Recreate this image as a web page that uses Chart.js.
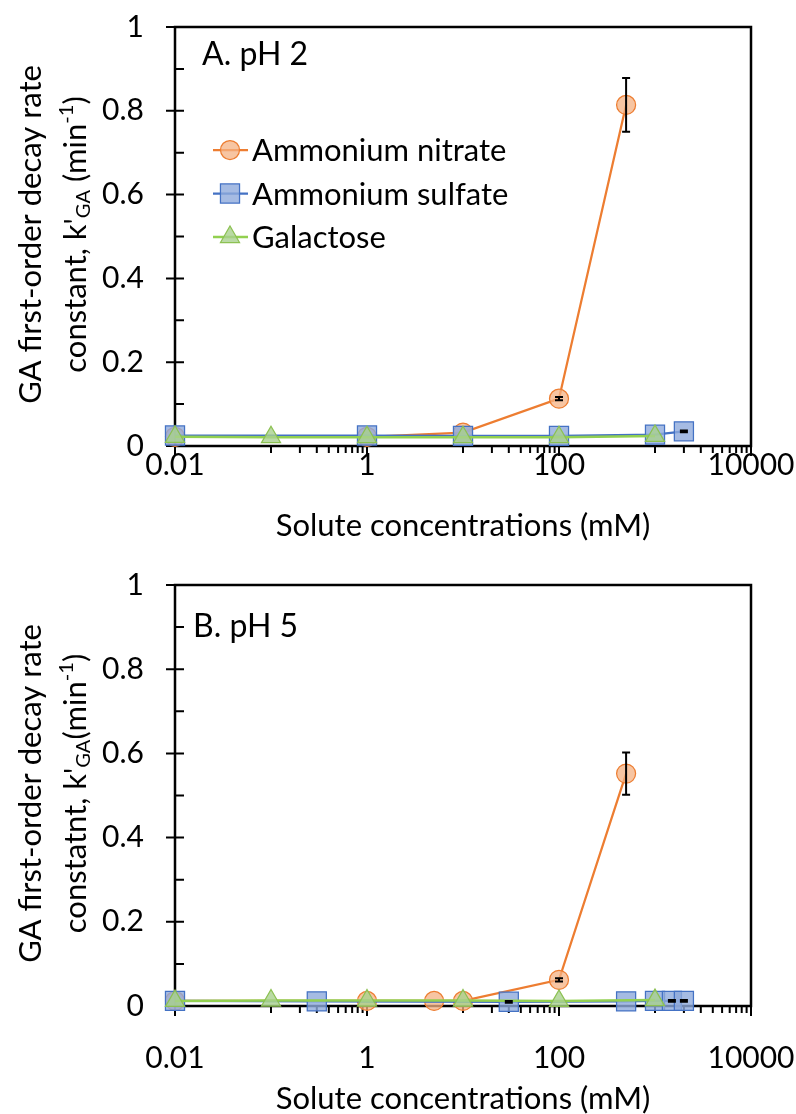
<!DOCTYPE html>
<html>
<head>
<meta charset="utf-8">
<title>GA decay rate vs solute concentration</title>
<script src="https://cdn.jsdelivr.net/npm/chart.js@4.4.1/dist/chart.umd.min.js"></script>
<style>
  html, body { margin: 0; padding: 0; background: #fff; }
  #wrap { position: relative; width: 796px; height: 1114px; overflow: hidden; }
  canvas { position: absolute; left: 0; }
</style>
</head>
<body>
<div id="wrap">
  <canvas id="chartA" width="796" height="557" style="top:0"></canvas>
  <canvas id="chartB" width="796" height="557" style="top:557px"></canvas>
</div>
<script>
// Concentrations in mM, k'GA in 1/min
var xLabelTicks = [0.01, 1, 100, 10000];
var xMinorDecades = [0.1, 10, 1000];
var xMinorSteps = [1, 2, 3, 4, 5, 6, 7, 8, 9];
var yTicks = [0, 0.2, 0.4, 0.6, 0.8, 1];
var yMinorTicks = [0.1, 0.3, 0.5, 0.7, 0.9];

// A. pH 2
var nitrateA_x = [0.01, 1, 10, 100, 500];
var nitrateA_y = [0.022, 0.022, 0.032, 0.113, 0.814];
var nitrateA_err = [0, 0, 0, 0.004, 0.064];
var sulfateA_x = [0.01, 1, 10, 100, 1000, 2000];
var sulfateA_y = [0.025, 0.025, 0.024, 0.024, 0.027, 0.035];
var sulfateA_err = [0, 0, 0, 0, 0, 0.002];
var galactoseA_x = [0.01, 0.1, 1, 10, 100, 1000];
var galactoseA_y = [0.022, 0.021, 0.021, 0.021, 0.021, 0.024];

// B. pH 5
var nitrateB_x = [0.01, 1, 5, 10, 100, 500];
var nitrateB_y = [0.012, 0.012, 0.012, 0.012, 0.062, 0.552];
var nitrateB_err = [0, 0, 0, 0, 0.004, 0.05];
var sulfateB_x = [0.01, 0.3, 30, 500, 1000, 1500, 2000];
var sulfateB_y = [0.012, 0.011, 0.01, 0.011, 0.012, 0.012, 0.012];
var sulfateB_err = [0, 0, 0.002, 0, 0, 0.002, 0.002];
var galactoseB_x = [0.01, 0.1, 1, 10, 100, 1000];
var galactoseB_y = [0.012, 0.013, 0.013, 0.013, 0.012, 0.014];

var ORANGE = '#ED7D31', ORANGE_FILL = 'rgba(244,177,131,0.75)';
var BLUE = '#4472C4', BLUE_FILL = 'rgba(143,170,220,0.8)';
var GREEN = '#92D050', GREEN_FILL = 'rgba(169,209,142,0.8)', GREEN_EDGE = '#8CC152';
var FONT = 'Lato, "Open Sans", sans-serif';

Chart.defaults.font.family = FONT;
Chart.defaults.color = '#000';

function pts(xs, ys) {
  return xs.map(function (x, i) { return { x: x, y: ys[i] }; });
}

// axis frame plus Excel-style tick marks
var framePlugin = {
  id: 'frame',
  beforeDatasetsDraw: function (chart) {
    var ctx = chart.ctx, a = chart.chartArea;
    var xs = chart.scales.x, ys = chart.scales.y;
    ctx.save();
    ctx.strokeStyle = '#000';
    ctx.lineWidth = 2.5;
    ctx.strokeRect(a.left, a.top, a.right - a.left, a.bottom - a.top);
    ctx.lineWidth = 2;
    ctx.beginPath();
    xLabelTicks.forEach(function (v) {
      var px = xs.getPixelForValue(v);
      ctx.moveTo(px, a.bottom);
      ctx.lineTo(px, a.bottom + 10);
    });
    xMinorDecades.forEach(function (d) {
      xMinorSteps.forEach(function (k) {
        var px = xs.getPixelForValue(d * k);
        ctx.moveTo(px, a.bottom);
        ctx.lineTo(px, a.bottom + 7);
      });
    });
    yTicks.forEach(function (v) {
      var py = ys.getPixelForValue(v);
      ctx.moveTo(a.left - 9, py);
      ctx.lineTo(a.left + 9, py);
    });
    yMinorTicks.forEach(function (v) {
      var py = ys.getPixelForValue(v);
      ctx.moveTo(a.left, py);
      ctx.lineTo(a.left + 9, py);
    });
    ctx.stroke();
    ctx.restore();
  }
};

var errorBarPlugin = {
  id: 'errorBars',
  afterDatasetsDraw: function (chart) {
    var ctx = chart.ctx, xs = chart.scales.x, ys = chart.scales.y;
    ctx.save();
    ctx.strokeStyle = '#000';
    ctx.lineWidth = 2;
    chart.data.datasets.forEach(function (ds) {
      if (!ds.errorBars) return;
      ds.data.forEach(function (p, i) {
        var e = ds.errorBars[i];
        if (!e) return;
        var px = xs.getPixelForValue(p.x);
        var top = ys.getPixelForValue(p.y + e), bot = ys.getPixelForValue(p.y - e);
        ctx.beginPath();
        ctx.moveTo(px, top); ctx.lineTo(px, bot);
        ctx.moveTo(px - 4, top); ctx.lineTo(px + 4, top);
        ctx.moveTo(px - 4, bot); ctx.lineTo(px + 4, bot);
        ctx.stroke();
      });
    });
    ctx.restore();
  }
};

function drawMarker(ctx, ds, x, y) {
  ctx.fillStyle = ds.pointBackgroundColor;
  ctx.strokeStyle = ds.pointBorderColor;
  ctx.lineWidth = ds.pointBorderWidth;
  Chart.helpers.drawPoint(ctx, {
    pointStyle: ds.pointStyle, radius: ds.pointRadius, rotation: 0, borderWidth: ds.pointBorderWidth
  }, x, y);
}

// legend inside the plot: line + marker + label
var insideLegendPlugin = {
  id: 'insideLegend',
  afterDraw: function (chart, args, opts) {
    if (!opts || !opts.show) return;
    var ctx = chart.ctx;
    ctx.save();
    chart.data.datasets.forEach(function (ds, i) {
      var y = opts.y + i * opts.step;
      ctx.strokeStyle = ds.borderColor;
      ctx.lineWidth = ds.borderWidth;
      ctx.beginPath();
      ctx.moveTo(opts.x, y);
      ctx.lineTo(opts.x + 35, y);
      ctx.stroke();
      drawMarker(ctx, ds, opts.x + 17, y);
      ctx.fillStyle = '#000';
      ctx.font = opts.size + 'px ' + FONT;
      ctx.textAlign = 'left';
      ctx.textBaseline = 'middle';
      ctx.fillText(ds.label, opts.x + 39, y + 1);
    });
    ctx.restore();
  }
};

// panel label and two-line rotated y title with sub/superscripts
function drawRich(ctx, parts, size) {
  var w = 0;
  parts.forEach(function (p) {
    ctx.font = (p.small ? size * 0.65 : size) + 'px ' + FONT;
    p.w = ctx.measureText(p.t).width;
    w += p.w;
  });
  var x = -w / 2;
  parts.forEach(function (p) {
    ctx.font = (p.small ? size * 0.65 : size) + 'px ' + FONT;
    ctx.fillText(p.t, x, p.dy || 0);
    x += p.w;
  });
}

var textPlugin = {
  id: 'panelText',
  afterDraw: function (chart, args, opts) {
    var ctx = chart.ctx, a = chart.chartArea;
    ctx.save();
    ctx.fillStyle = '#000';
    ctx.textBaseline = 'alphabetic';
    ctx.textAlign = 'left';
    ctx.font = opts.labelSize + 'px ' + FONT;
    ctx.fillText(opts.label, a.left + opts.labelDx, a.top + opts.labelDy);

    var cy = (a.top + a.bottom) / 2 + opts.titleDy;
    ctx.textBaseline = 'middle';
    ctx.save();
    ctx.translate(opts.title1X, cy);
    ctx.rotate(-Math.PI / 2);
    drawRich(ctx, [{ t: opts.title1 }], opts.titleSize);
    ctx.restore();
    ctx.save();
    ctx.translate(opts.title2X, cy);
    ctx.rotate(-Math.PI / 2);
    drawRich(ctx, opts.title2, opts.titleSize);
    ctx.restore();
    ctx.restore();
  }
};

function makeDatasets(nx, ny, nerr, sx, sy, serr, gx, gy) {
  return [{
    label: 'Ammonium nitrate', data: pts(nx, ny), errorBars: nerr,
    borderColor: ORANGE, borderWidth: 2.25,
    pointStyle: 'circle', pointRadius: 9.5, pointBorderWidth: 1.25,
    pointBackgroundColor: ORANGE_FILL, pointBorderColor: ORANGE, order: 3
  }, {
    label: 'Ammonium sulfate', data: pts(sx, sy), errorBars: serr,
    borderColor: BLUE, borderWidth: 2.25,
    pointStyle: 'rect', pointRadius: 13.5, pointBorderWidth: 1.25,
    pointBackgroundColor: BLUE_FILL, pointBorderColor: BLUE, order: 2
  }, {
    label: 'Galactose', data: pts(gx, gy),
    borderColor: GREEN, borderWidth: 2.5,
    pointStyle: 'triangle', pointRadius: 11, pointBorderWidth: 1.25,
    pointBackgroundColor: GREEN_FILL, pointBorderColor: GREEN_EDGE, order: 1
  }];
}

function makeChart(id, datasets, p) {
  datasets.forEach(function (ds) { ds.showLine = true; ds.clip = false; ds.pointHoverRadius = ds.pointRadius; });
  return new Chart(document.getElementById(id), {
    type: 'scatter',
    data: { datasets: datasets },
    plugins: [framePlugin, errorBarPlugin, insideLegendPlugin, textPlugin],
    options: {
      responsive: false,
      animation: false,
      events: [],
      layout: { padding: { left: 0, right: 45, top: p.top, bottom: 0 } },
      plugins: {
        legend: { display: false },
        tooltip: { enabled: false },
        insideLegend: p.legend,
        panelText: p.text
      },
      scales: {
        x: {
          type: 'logarithmic', min: 0.01, max: 10000,
          afterBuildTicks: function (s) {
            s.ticks = xLabelTicks.map(function (v) { return { value: v }; });
          },
          afterFit: function (s) { s.height = p.xAxisHeight; s.paddingLeft = 0; s.paddingRight = 0; },
          ticks: {
            autoSkip: false, maxRotation: 0, padding: p.xTickPad,
            font: { size: 30 },
            callback: function (v) { return String(v); }
          },
          grid: { display: false, drawTicks: false },
          border: { display: false },
          title: {
            display: true, text: 'Solute concentrations (mM)',
            font: { size: 31, lineHeight: 1 }, padding: { top: 0, bottom: p.xTitlePad }
          }
        },
        y: {
          min: 0, max: 1,
          afterBuildTicks: function (s) {
            s.ticks = yTicks.map(function (v) { return { value: v }; });
          },
          afterFit: function (s) { s.width = 175; s.paddingTop = 0; s.paddingBottom = 0; },
          ticks: {
            padding: 31, font: { size: 30 },
            callback: function (v) { return String(v); }
          },
          grid: { display: false, drawTicks: false },
          border: { display: false }
        }
      }
    }
  });
}

makeChart('chartA',
  makeDatasets(nitrateA_x, nitrateA_y, nitrateA_err, sulfateA_x, sulfateA_y, sulfateA_err, galactoseA_x, galactoseA_y),
  {
    top: 27, xAxisHeight: 111, xTickPad: 1, xTitlePad: 16,
    legend: { show: true, x: 213, y: 150, step: 43.5, size: 31 },
    text: {
      label: 'A. pH 2', labelSize: 32, labelDx: 27, labelDy: 38,
      title1: 'GA first-order decay rate',
      title2: [{ t: 'constant, k\'' }, { t: 'GA', small: true, dy: 7 }, { t: ' (min' }, { t: '-1', small: true, dy: -10 }, { t: ')' }],
      title1X: 31, title2X: 76, titleDy: -2, titleSize: 31
    }
  });

makeChart('chartB',
  makeDatasets(nitrateB_x, nitrateB_y, nitrateB_err, sulfateB_x, sulfateB_y, sulfateB_err, galactoseB_x, galactoseB_y),
  {
    top: 28, xAxisHeight: 108, xTickPad: 34, xTitlePad: 0,
    legend: { show: false },
    text: {
      label: 'B. pH 5', labelSize: 32, labelDx: 18, labelDy: 52,
      title1: 'GA first-order decay rate',
      title2: [{ t: 'constatnt, k\'' }, { t: 'GA', small: true, dy: 7 }, { t: '(min' }, { t: '-1', small: true, dy: -10 }, { t: ')' }],
      title1X: 31, title2X: 76, titleDy: -2, titleSize: 31
    }
  });
</script>
</body>
</html>
